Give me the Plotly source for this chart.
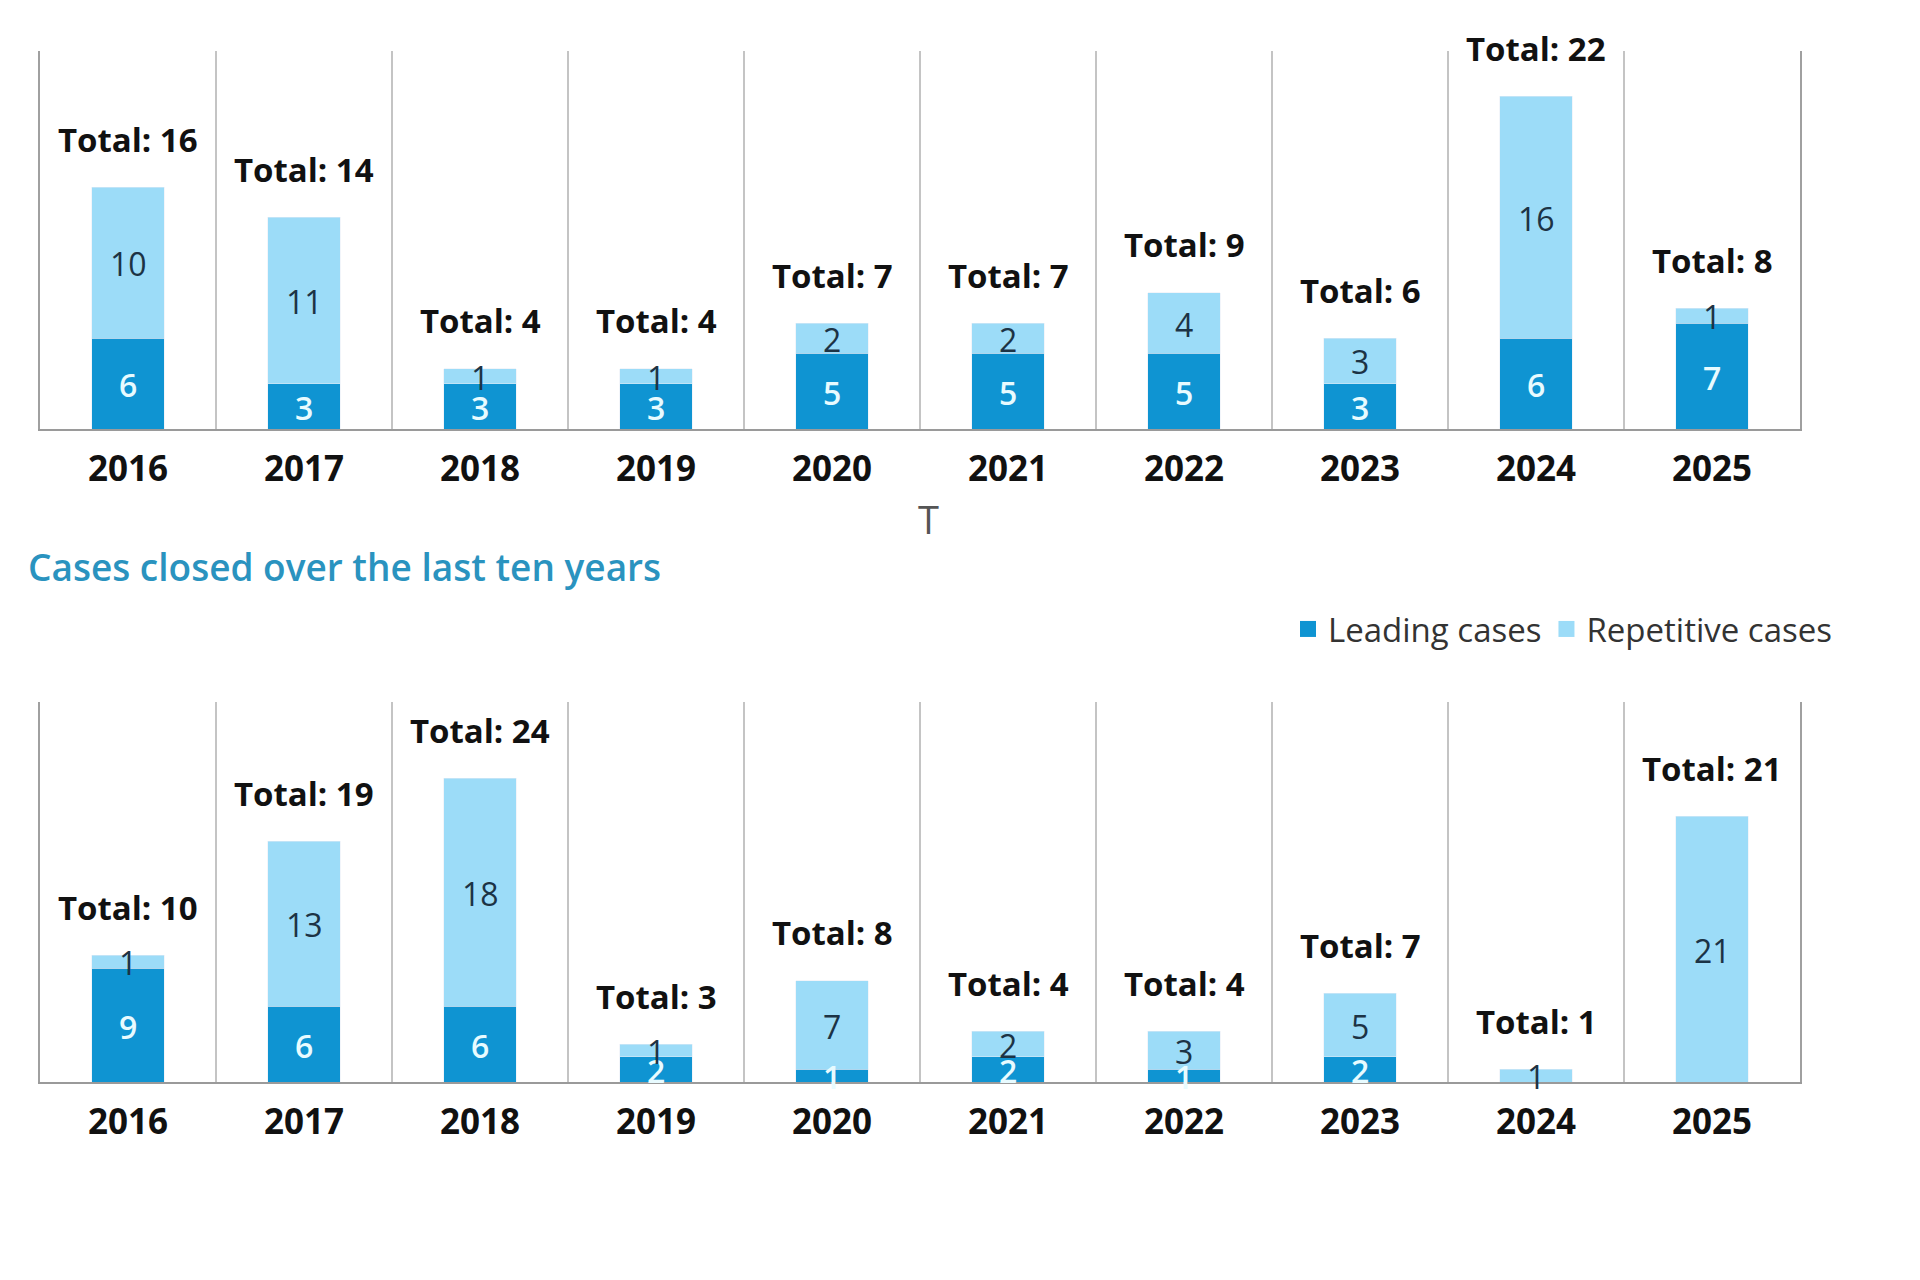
import plotly.graph_objects as go

years = ["2016", "2017", "2018", "2019", "2020", "2021", "2022", "2023", "2024", "2025"]

# Top chart
top_leading = [6, 3, 3, 3, 5, 5, 5, 3, 6, 7]
top_repetitive = [10, 11, 1, 1, 2, 2, 4, 3, 16, 1]

# Bottom chart: cases closed over the last ten years
bot_leading = [9, 6, 6, 2, 1, 2, 1, 2, 0, 0]
bot_repetitive = [1, 13, 18, 1, 7, 2, 3, 5, 1, 21]

series_names = ["Leading cases", "Repetitive cases"]
title_text = "Cases closed over the last ten years"

DARK = "#0f94d2"
LIGHT = "#9cdcf8"
FONT = "Open Sans"

W, H = 1920, 1280
OFF = 8  # page body margin offset
x_dom = [(40 - OFF) / W, (1800 - OFF) / W]
top_dom = [1 - (429 - OFF) / H, 1 - (51 - OFF) / H]
bot_dom = [1 - (1082 - OFF) / H, 1 - (702 - OFF) / H]

fig = go.Figure()


def add_chart(lead, rep, xa, ya):
    fig.add_trace(go.Bar(x=years, y=lead, marker_color=DARK, width=0.41,
                         showlegend=False, xaxis=xa, yaxis=ya, name=series_names[0]))
    fig.add_trace(go.Bar(x=years, y=rep, marker_color=LIGHT, width=0.41,
                         showlegend=False, xaxis=xa, yaxis=ya, name=series_names[1]))
    # segment labels
    for i, (l, r) in enumerate(zip(lead, rep)):
        if l > 0:
            fig.add_annotation(x=i, y=l / 2, xref=xa, yref=ya, yshift=-1, text=str(l),
                               showarrow=False,
                               font=dict(family=FONT, size=32, color="#e8fbff", weight=600))
        if r > 0:
            fig.add_annotation(x=i, y=l + r / 2, xref=xa, yref=ya, yshift=-1, text=str(r),
                               showarrow=False,
                               font=dict(family=FONT, size=32, color="#1c3345"))
    totals = [l + r for l, r in zip(lead, rep)]
    for i, t in enumerate(totals):
        fig.add_annotation(x=i, y=t, xref=xa, yref=ya, yshift=48,
                           text=f"Total: {t}", showarrow=False,
                           font=dict(family=FONT, size=33, color="#111111", weight="bold"))


add_chart(top_leading, top_repetitive, "x", "y")
add_chart(bot_leading, bot_repetitive, "x2", "y2")

# legend entries
fig.add_trace(go.Scatter(x=[years[0]], y=[None], mode="markers", name=series_names[0],
                         marker=dict(symbol="square", size=22, color=DARK), xaxis="x2", yaxis="y2"))
fig.add_trace(go.Scatter(x=[years[0]], y=[None], mode="markers", name=series_names[1],
                         marker=dict(symbol="square", size=22, color=LIGHT), xaxis="x2", yaxis="y2"))

xcommon = dict(type="category", tickson="boundaries", showgrid=True, gridcolor="#c4c4c4",
               gridwidth=1.5, showline=True, linecolor="#9a9a9a", linewidth=2,
               ticks="outside", ticklen=20, tickcolor="rgba(0,0,0,0)", tickangle=0,
               ticklabelstandoff=8,
               tickfont=dict(family=FONT, size=35, color="#111111", weight="bold"),
               domain=x_dom, fixedrange=True, range=[-0.5, 9.5], autorange=False,
               categoryorder="array", categoryarray=years)
ycommon = dict(showgrid=False, showticklabels=False, showline=True, mirror=True,
               linecolor="#a0a0a0", linewidth=2, zeroline=False, ticks="", fixedrange=True)

fig.update_layout(
    width=W, height=H,
    margin=dict(l=0, r=0, t=0, b=0),
    paper_bgcolor="white", plot_bgcolor="white",
    barmode="stack",
    font=dict(family=FONT, color="#333333"),
    xaxis=dict(**xcommon, anchor="y"),
    yaxis=dict(**ycommon, domain=top_dom, range=[0, 25], anchor="x"),
    xaxis2=dict(**xcommon, anchor="y2"),
    yaxis2=dict(**ycommon, domain=bot_dom, range=[0, 30], anchor="x2"),
    legend=dict(orientation="h", x=(1837 - OFF) / W, xanchor="right", y=1 - (629 - OFF) / H,
                yanchor="middle",
                font=dict(family=FONT, size=33, color="#333333"), bgcolor="rgba(0,0,0,0)",
                itemwidth=30, traceorder="normal"),
    title=dict(text=title_text, x=(28 - OFF) / W, xanchor="left", xref="paper",
               y=1 - (568 - OFF) / H, yanchor="middle", yref="paper",
               font=dict(family=FONT, size=37, color="#2a93bf", weight=600)),
    showlegend=True,
)

fig.add_annotation(x=(928 - OFF) / W, y=1 - (519 - OFF) / H, xref="paper", yref="paper", text="T",
                   showarrow=False, font=dict(family=FONT, size=38, color="#555555"))

fig.write_html("out.html")
